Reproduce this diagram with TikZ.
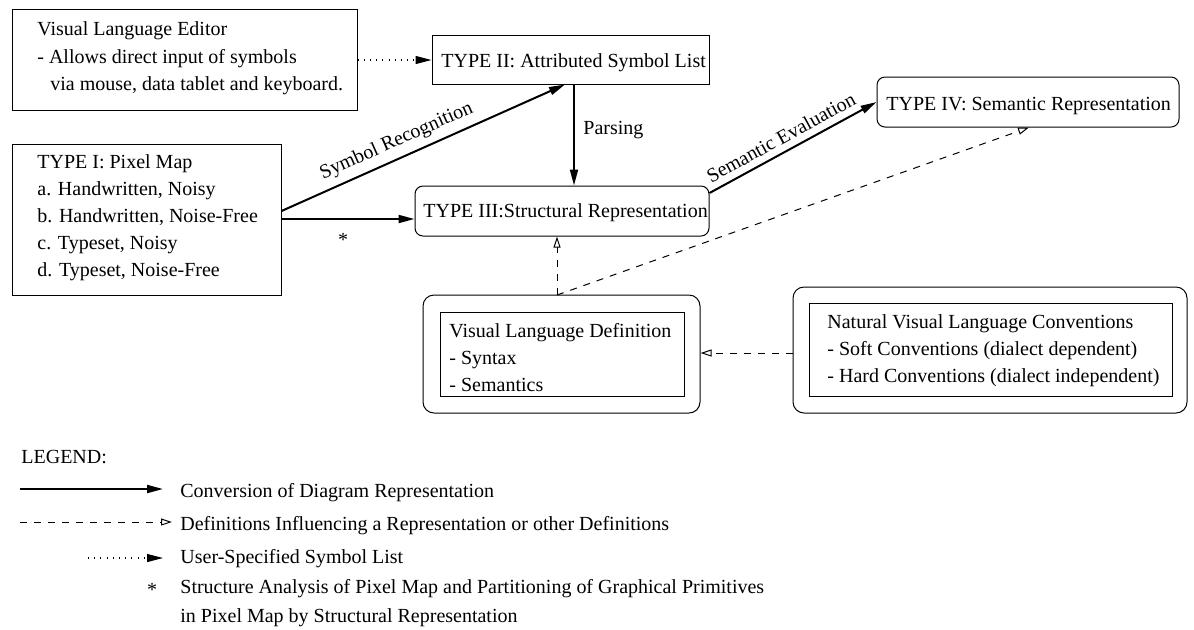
\documentclass[tikz,border=0pt]{standalone}
\usepackage{fontspec}
\setmainfont{Liberation Serif}
\usetikzlibrary{arrows.meta,fit}

\begin{document}
\begin{tikzpicture}[x=0.5pt,y=-0.5pt,
  every node/.style={font=\fontsize{10}{12}\selectfont},
  box/.style={draw, line width=0.5pt, inner sep=0pt},
  rbox/.style={box, rounded corners=4pt},
  obox/.style={box, rounded corners=5.5pt},
  txt/.style={inner sep=0pt, anchor=base west},
  conv/.style={line width=1pt, -{Triangle[length=8pt,width=4pt]}},
  defn/.style={line width=0.5pt, dash pattern=on 3.5pt off 3.5pt,
               -{Triangle[open,length=5.5pt,width=3.5pt]}},
  user/.style={line width=0.6pt, dash pattern=on 0.5pt off 2.6pt,
               -{Triangle[length=8pt,width=4pt]}}]

\useasboundingbox (0,0) rectangle (1194,629);

% --- boxes ---
\node[box,  fit={(12,9) (357,110)}]    (ed)   {};
\node[box,  fit={(432,35) (709,84)}]   (t2)   {};
\node[box,  fit={(12,144) (281,295)}]  (t1)   {};
\node[rbox, fit={(415,186) (709,236)}] (t3)   {};
\node[rbox, fit={(877,77) (1179,127)}] (t4)   {};
\node[obox, fit={(423,295) (700,413)}] (vldo) {};
\node[box,  fit={(440,312) (684,396)}] (vldi) {};
\node[obox, fit={(793,287) (1187,413)}] (nvlo) {};
\node[box,  fit={(809,303) (1172,396)}] (nvli) {};

% --- box texts ---
\node[txt] (ed1) at (37,35) {Visual Language Editor};
\node[txt] (ed2) at (37,63) {- Allows direct input of symbols};
\node[txt] (ed3) at (50,90) {via mouse, data tablet and keyboard.};

\node[txt] (t2t) at (441,67) {TYPE II: Attributed Symbol List};

\node[txt] (t1a) at (37,168) {TYPE I: Pixel Map};
\node[txt] (t1b) at (37,195) {a. Handwritten, Noisy};
\node[txt] (t1c) at (37,222) {b. Handwritten, Noise-Free};
\node[txt] (t1d) at (37,249) {c. Typeset, Noisy};
\node[txt] (t1e) at (37,276) {d. Typeset, Noise-Free};

\node[txt] (t3t) at (423,217) {TYPE III:Structural Representation};
\node[txt] (t4t) at (886,110) {TYPE IV: Semantic Representation};

\node[txt] (vl1) at (449,337) {Visual Language Definition};
\node[txt] (vl2) at (449,364) {- Syntax};
\node[txt] (vl3) at (449,391) {- Semantics};

\node[txt] (nv1) at (827,328) {Natural Visual Language Conventions};
\node[txt] (nv2) at (827,355) {- Soft Conventions (dialect dependent)};
\node[txt] (nv3) at (827,382) {- Hard Conventions (dialect independent)};

% --- conversions ---
\draw[user] (ed.east |- 0,60) -- (t2.west |- 0,60);
\draw[conv] (t1.east |- 0,211) -- node[pos=0.43, sloped, above] (sr) {Symbol Recognition} (t2.south -| 565,0);
\draw[conv] (t1.east |- 0,219) -- (t3.west |- 0,219);
\node[inner sep=0pt, anchor=base] (ast) at (343,246) {*};
\draw[conv] (t2.south -| 574,0) -- (t3.north -| 574,0);
\node[txt] (pa) at (583,134) {Parsing};
\draw[conv] (t3.east |- 0,193) -- node[pos=0.47, sloped, above] (se) {Semantic Evaluation} (t4.west |- 0,102);

% --- definitions influencing ---
\coordinate (j) at (557,295);
\draw[defn] (j) -- (t3.south -| j);
\draw[defn] (j) -- (t4.south -| 1029,0);
\draw[defn] (nvlo.west |- 0,353) -- (vldo.east |- 0,353);

% --- legend ---
\node[txt] (lg) at (21,463) {LEGEND:};
\coordinate (l1a) at (20,489);  \coordinate (l1b) at (163,489);
\coordinate (l2a) at (20,522);  \coordinate (l2b) at (172,522);
\coordinate (l3a) at (88,558);  \coordinate (l3b) at (163,558);
\draw[conv] (l1a) -- (l1b);
\draw[defn] (l2a) -- (l2b);
\draw[user] (l3a) -- (l3b);
\node[txt] (lt1) at (180,497) {Conversion of Diagram Representation};
\node[txt] (lt2) at (180,530) {Definitions Influencing a Representation or other Definitions};
\node[txt] (lt3) at (180,563) {User-Specified Symbol List};
\node[inner sep=0pt, anchor=base] (last) at (152,596) {*};
\node[txt] (lt4) at (180,593) {Structure Analysis of Pixel Map and Partitioning of Graphical Primitives};
\node[txt] (lt5) at (180,622) {in Pixel Map by Structural Representation};
\end{tikzpicture}
\end{document}
